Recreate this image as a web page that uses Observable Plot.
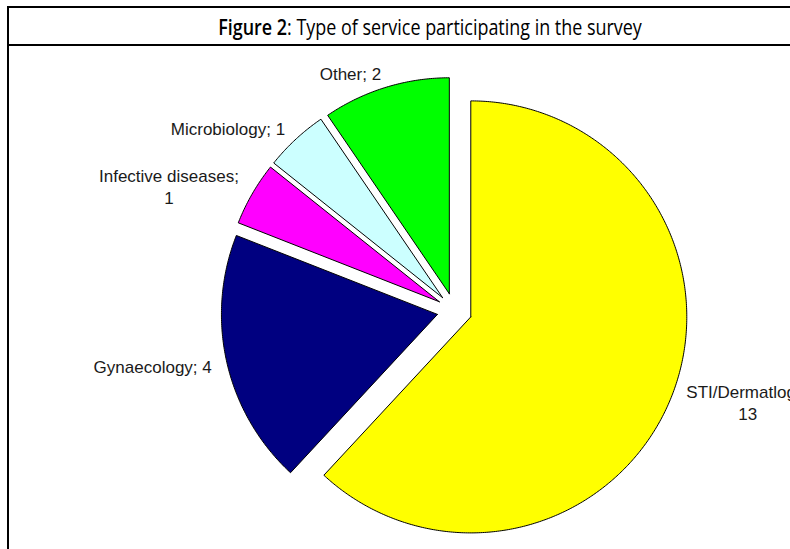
<!DOCTYPE html>
<html>
<head>
<meta charset="utf-8">
<script src="https://cdn.jsdelivr.net/npm/d3@7"></script>
<script src="https://cdn.jsdelivr.net/npm/@observablehq/plot@0.6"></script>
<style>
  html, body { margin: 0; padding: 0; background: #fff; overflow: hidden; width: 790px; height: 549px; }
  #frame { position: absolute; left: 7px; top: 6px; width: 900px; height: 620px; border: 2px solid #000; box-sizing: border-box; }
  #titlebar { position: absolute; left: 0; top: 0; width: 100%; height: 38px; border-bottom: 2px solid #000; box-sizing: border-box; }
  #titlesvg { position: absolute; left: 0; top: 0; }
  #chart { position: absolute; left: 0; top: 46px; }
</style>
</head>
<body>
<div id="frame"><div id="titlebar"></div></div>
<svg id="titlesvg" width="790" height="46">
  <text id="titletext" x="430" y="35" text-anchor="middle" font-family="'Open Sans', 'Noto Sans', sans-serif" font-size="21" fill="#000"><tspan font-weight="600">Figure 2</tspan><tspan font-weight="400">: Type of service participating in the survey</tspan></text>
</svg>
<div id="chart"></div>
<script>
// ---- data ----
const categories = ["STI/Dermatlogy", "Gynaecology", "Infective diseases", "Microbiology", "Other"];
const counts = [13, 4, 1, 1, 2];
const sliceColors = ["#ffff00", "#000080", "#ff00ff", "#ccffff", "#00ff00"];

// ---- layout ----
const W = 790, H = 503, CX = 454, CY = 264, R = 216;
const EXPLODE = 17.5 / R, LABEL_R = 249 / R, FS = 17;

// title: fit to the reference width
const tt = document.getElementById("titletext");
const tl = tt.getComputedTextLength();
if (tl > 0) {
  const k = 424 / tl;
  tt.setAttribute("transform", `translate(430,0) scale(${k},1) translate(-430,0)`);
}

const arcs = d3.pie().sort(null).value(d => d)(counts);

const pts = [];
arcs.forEach((a, i) => {
  const mid = (a.startAngle + a.endAngle) / 2;
  const ox = EXPLODE * Math.sin(mid), oy = EXPLODE * Math.cos(mid);
  const name = categories[i];
  pts.push({name, x: ox, y: oy});
  const n = Math.max(2, Math.ceil((a.endAngle - a.startAngle) / (Math.PI / 360)));
  for (let k = 0; k <= n; k++) {
    const t = a.startAngle + (a.endAngle - a.startAngle) * k / n;
    pts.push({name, x: ox + Math.sin(t), y: oy + Math.cos(t)});
  }
  pts.push({name, x: ox, y: oy});
});

const ctx = document.createElement("canvas").getContext("2d");
ctx.font = `${FS}px "Liberation Sans", Arial, sans-serif`;
const labels = arcs.map((a, i) => {
  const mid = (a.startAngle + a.endAngle) / 2;
  const name = categories[i];
  const lines = name.length >= 14 ? [name + ";", String(counts[i])] : [name + "; " + counts[i]];
  const w = Math.max(...lines.map(l => ctx.measureText(l).width));
  const side = Math.sin(mid) >= 0 ? 1 : -1;
  let x = LABEL_R * Math.sin(mid);
  let y = LABEL_R * Math.cos(mid);
  x += side * (w / 2) / R;
  return {text: lines.join("\n"), x, y};
});

const chart = Plot.plot({
  width: W, height: H, margin: 0,
  x: {domain: [-CX / R, (W - CX) / R], axis: null},
  y: {domain: [-(H - CY) / R, CY / R], axis: null},
  color: {domain: categories, range: sliceColors},
  style: {background: "transparent", overflow: "visible"},
  marks: [
    Plot.line(pts, {x: "x", y: "y", z: "name", fill: "name", stroke: "#000", strokeWidth: 1, strokeLinejoin: "miter", strokeMiterlimit: 10, curve: "linear"}),
    Plot.text(labels, {x: "x", y: "y", text: "text", textAnchor: "middle", lineAnchor: "middle", lineHeight: 1.3, fontSize: FS, fontFamily: "'Liberation Sans', Arial, sans-serif", fill: "#1a1a1a"})
  ]
});
document.getElementById("chart").appendChild(chart);
</script>
</body>
</html>
